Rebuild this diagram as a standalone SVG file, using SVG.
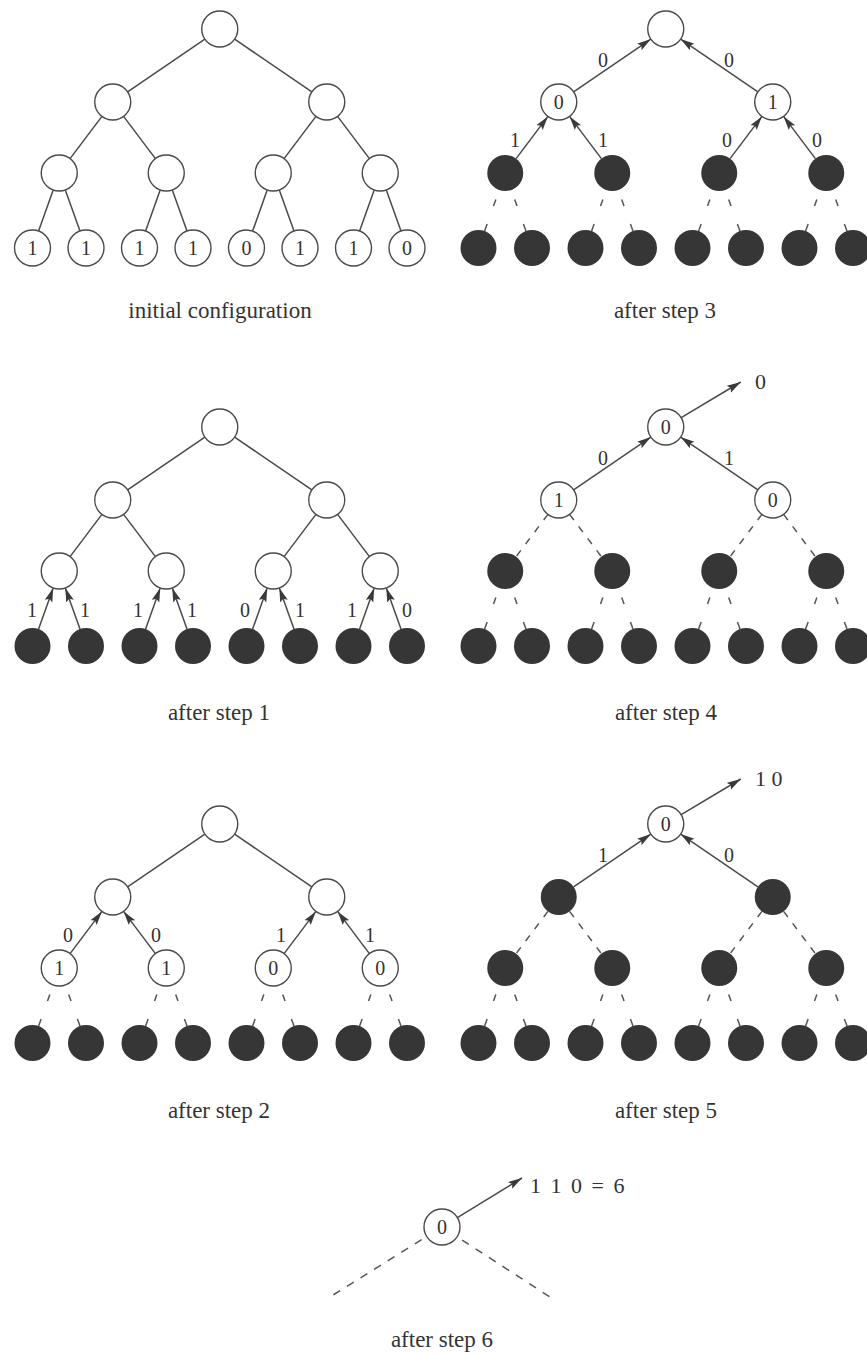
<svg xmlns="http://www.w3.org/2000/svg" width="867" height="1355" viewBox="0 0 867 1355">
<style>
.e{stroke:#4a4a4a;stroke-width:1.5;fill:none}
.a{stroke:#4a4a4a;stroke-width:1.5;fill:none;marker-end:url(#ah)}
.ds{stroke:#555;stroke-width:1.5;fill:none;stroke-dasharray:0 10 7 19 8 30}
.dl{stroke:#555;stroke-width:1.5;fill:none;stroke-dasharray:7 8}
.d7{stroke:#555;stroke-width:1.5;fill:none;stroke-dasharray:8 8;stroke-dashoffset:10}
.w{fill:#fff;stroke:#4a4a4a;stroke-width:1.4}
.b{fill:#363636}
text{font-family:"Liberation Serif","Times New Roman",serif;fill:#333}
.t{font-size:20px;text-anchor:middle}
.l{font-size:20px;text-anchor:middle}
.o{font-size:22px}
.cap{font-size:23px;text-anchor:middle}
</style>
<defs>
<marker id="ah" markerUnits="userSpaceOnUse" markerWidth="15" markerHeight="9" refX="14" refY="4" orient="auto">
<path d="M0,0 L14,4 L0,8 L2.5,4 Z" fill="#3a3a3a"/>
</marker>
</defs>
<rect width="867" height="1355" fill="#fff"/>

<g id="connectors">
 <g id="c-p1">
  <line class="e" x1="127.6" y1="91.9" x2="204.9" y2="39.1"/>
  <line class="e" x1="311.9" y1="91.9" x2="234.6" y2="39.1"/>
  <line class="e" x1="70.1" y1="158.6" x2="101.9" y2="116.4"/>
  <line class="e" x1="155.4" y1="158.6" x2="123.6" y2="116.4"/>
  <line class="e" x1="284.1" y1="158.6" x2="315.9" y2="116.4"/>
  <line class="e" x1="369.4" y1="158.6" x2="337.6" y2="116.4"/>
  <line class="e" x1="38.6" y1="231.1" x2="53.2" y2="190"/>
  <line class="e" x1="80" y1="231.1" x2="65.3" y2="190"/>
  <line class="e" x1="145.6" y1="231.1" x2="160.2" y2="190"/>
  <line class="e" x1="187" y1="231.1" x2="172.3" y2="190"/>
  <line class="e" x1="252.6" y1="231.1" x2="267.2" y2="190"/>
  <line class="e" x1="294" y1="231.1" x2="279.3" y2="190"/>
  <line class="e" x1="359.6" y1="231.1" x2="374.2" y2="190"/>
  <line class="e" x1="401" y1="231.1" x2="386.3" y2="190"/>
 </g>
 <g id="c-p2" transform="translate(446,0)">
  <line class="a" x1="127.6" y1="91.9" x2="204.9" y2="39.1"/>
  <line class="a" x1="311.9" y1="91.9" x2="234.6" y2="39.1"/>
  <line class="a" x1="70.1" y1="158.6" x2="101.9" y2="116.4"/>
  <line class="a" x1="155.4" y1="158.6" x2="123.6" y2="116.4"/>
  <line class="a" x1="284.1" y1="158.6" x2="315.9" y2="116.4"/>
  <line class="a" x1="369.4" y1="158.6" x2="337.6" y2="116.4"/>
  <line class="ds" x2="38.6" y2="231.1" x1="53.2" y1="190"/>
  <line class="ds" x2="80" y2="231.1" x1="65.3" y1="190"/>
  <line class="ds" x2="145.6" y2="231.1" x1="160.2" y1="190"/>
  <line class="ds" x2="187" y2="231.1" x1="172.3" y1="190"/>
  <line class="ds" x2="252.6" y2="231.1" x1="267.2" y1="190"/>
  <line class="ds" x2="294" y2="231.1" x1="279.3" y1="190"/>
  <line class="ds" x2="359.6" y2="231.1" x1="374.2" y1="190"/>
  <line class="ds" x2="401" y2="231.1" x1="386.3" y1="190"/>
  <text class="l" x="157" y="67">0</text>
  <text class="l" x="283" y="67">0</text>
  <text class="l" x="69" y="147">1</text>
  <text class="l" x="157" y="147">1</text>
  <text class="l" x="281" y="147">0</text>
  <text class="l" x="371" y="147">0</text>
 </g>
 <g id="c-p3" transform="translate(0,398)">
  <line class="e" x1="127.6" y1="91.9" x2="204.9" y2="39.1"/>
  <line class="e" x1="311.9" y1="91.9" x2="234.6" y2="39.1"/>
  <line class="e" x1="70.1" y1="158.6" x2="101.9" y2="116.4"/>
  <line class="e" x1="155.4" y1="158.6" x2="123.6" y2="116.4"/>
  <line class="e" x1="284.1" y1="158.6" x2="315.9" y2="116.4"/>
  <line class="e" x1="369.4" y1="158.6" x2="337.6" y2="116.4"/>
  <line class="a" x1="38.6" y1="231.1" x2="53.2" y2="190"/>
  <line class="a" x1="80" y1="231.1" x2="65.3" y2="190"/>
  <line class="a" x1="145.6" y1="231.1" x2="160.2" y2="190"/>
  <line class="a" x1="187" y1="231.1" x2="172.3" y2="190"/>
  <line class="a" x1="252.6" y1="231.1" x2="267.2" y2="190"/>
  <line class="a" x1="294" y1="231.1" x2="279.3" y2="190"/>
  <line class="a" x1="359.6" y1="231.1" x2="374.2" y2="190"/>
  <line class="a" x1="401" y1="231.1" x2="386.3" y2="190"/>
  <text class="l" x="32" y="219">1</text>
  <text class="l" x="85" y="219">1</text>
  <text class="l" x="138" y="219">1</text>
  <text class="l" x="192" y="219">1</text>
  <text class="l" x="245" y="219">0</text>
  <text class="l" x="300" y="219">1</text>
  <text class="l" x="352" y="219">1</text>
  <text class="l" x="407" y="219">0</text>
 </g>
 <g id="c-p4" transform="translate(446,398)">
  <line class="a" x1="127.6" y1="91.9" x2="204.9" y2="39.1"/>
  <line class="a" x1="311.9" y1="91.9" x2="234.6" y2="39.1"/>
  <line class="dl" x2="70.1" y2="158.6" x1="101.9" y1="116.4"/>
  <line class="dl" x2="155.4" y2="158.6" x1="123.6" y1="116.4"/>
  <line class="dl" x2="284.1" y2="158.6" x1="315.9" y1="116.4"/>
  <line class="dl" x2="369.4" y2="158.6" x1="337.6" y1="116.4"/>
  <line class="ds" x2="38.6" y2="231.1" x1="53.2" y1="190"/>
  <line class="ds" x2="80" y2="231.1" x1="65.3" y1="190"/>
  <line class="ds" x2="145.6" y2="231.1" x1="160.2" y1="190"/>
  <line class="ds" x2="187" y2="231.1" x1="172.3" y1="190"/>
  <line class="ds" x2="252.6" y2="231.1" x1="267.2" y1="190"/>
  <line class="ds" x2="294" y2="231.1" x1="279.3" y1="190"/>
  <line class="ds" x2="359.6" y2="231.1" x1="374.2" y1="190"/>
  <line class="ds" x2="401" y2="231.1" x1="386.3" y1="190"/>
  <line class="a" x1="235.2" y1="19.7" x2="294.8" y2="-16"/>
  <text class="l" x="157" y="67">0</text>
  <text class="l" x="283" y="67">1</text>
  <text class="o" x="309" y="-9">0</text>
 </g>
 <g id="c-p5" transform="translate(0,795)">
  <line class="e" x1="127.6" y1="91.9" x2="204.9" y2="39.1"/>
  <line class="e" x1="311.9" y1="91.9" x2="234.6" y2="39.1"/>
  <line class="a" x1="70.1" y1="158.6" x2="101.9" y2="116.4"/>
  <line class="a" x1="155.4" y1="158.6" x2="123.6" y2="116.4"/>
  <line class="a" x1="284.1" y1="158.6" x2="315.9" y2="116.4"/>
  <line class="a" x1="369.4" y1="158.6" x2="337.6" y2="116.4"/>
  <line class="ds" x2="38.6" y2="231.1" x1="53.2" y1="190"/>
  <line class="ds" x2="80" y2="231.1" x1="65.3" y1="190"/>
  <line class="ds" x2="145.6" y2="231.1" x1="160.2" y1="190"/>
  <line class="ds" x2="187" y2="231.1" x1="172.3" y1="190"/>
  <line class="ds" x2="252.6" y2="231.1" x1="267.2" y1="190"/>
  <line class="ds" x2="294" y2="231.1" x1="279.3" y1="190"/>
  <line class="ds" x2="359.6" y2="231.1" x1="374.2" y1="190"/>
  <line class="ds" x2="401" y2="231.1" x1="386.3" y1="190"/>
  <text class="l" x="68" y="147">0</text>
  <text class="l" x="156" y="147">0</text>
  <text class="l" x="281" y="147">1</text>
  <text class="l" x="370" y="147">1</text>
 </g>
 <g id="c-p6" transform="translate(446,795)">
  <line class="a" x1="127.6" y1="91.9" x2="204.9" y2="39.1"/>
  <line class="a" x1="311.9" y1="91.9" x2="234.6" y2="39.1"/>
  <line class="dl" x2="70.1" y2="158.6" x1="101.9" y1="116.4"/>
  <line class="dl" x2="155.4" y2="158.6" x1="123.6" y1="116.4"/>
  <line class="dl" x2="284.1" y2="158.6" x1="315.9" y1="116.4"/>
  <line class="dl" x2="369.4" y2="158.6" x1="337.6" y1="116.4"/>
  <line class="ds" x2="38.6" y2="231.1" x1="53.2" y1="190"/>
  <line class="ds" x2="80" y2="231.1" x1="65.3" y1="190"/>
  <line class="ds" x2="145.6" y2="231.1" x1="160.2" y1="190"/>
  <line class="ds" x2="187" y2="231.1" x1="172.3" y1="190"/>
  <line class="ds" x2="252.6" y2="231.1" x1="267.2" y1="190"/>
  <line class="ds" x2="294" y2="231.1" x1="279.3" y1="190"/>
  <line class="ds" x2="359.6" y2="231.1" x1="374.2" y1="190"/>
  <line class="ds" x2="401" y2="231.1" x1="386.3" y1="190"/>
  <line class="a" x1="235.2" y1="19.7" x2="294.8" y2="-16"/>
  <text class="l" x="157" y="67">1</text>
  <text class="l" x="283" y="67">0</text>
  <text class="o" x="309" y="-9">1 0</text>
 </g>
 <g id="c-p7">
  <line class="d7" x1="426.7" y1="1236.5" x2="333" y2="1295"/>
  <line class="d7" x1="457.1" y1="1236.8" x2="550" y2="1297"/>
  <line class="a" x1="457.4" y1="1217.6" x2="522" y2="1178"/>
  <text class="o" x="530" y="1193" word-spacing="4">1 1 0 = 6</text>
 </g>
</g>

<g id="nodes">
 <g id="p1" transform="translate(0,0)">
  <g id="p1-n0"><circle class="w" cx="219.75" cy="29" r="18"/></g>
  <g id="p1-n1"><circle class="w" cx="112.75" cy="102" r="18"/></g>
  <g id="p1-n2"><circle class="w" cx="326.75" cy="102" r="18"/></g>
  <g id="p1-n3"><circle class="w" cx="59.25" cy="173" r="18"/></g>
  <g id="p1-n4"><circle class="w" cx="166.25" cy="173" r="18"/></g>
  <g id="p1-n5"><circle class="w" cx="273.25" cy="173" r="18"/></g>
  <g id="p1-n6"><circle class="w" cx="380.25" cy="173" r="18"/></g>
  <g id="p1-n7"><circle class="w" cx="32.5" cy="248" r="18"/><text class="t" x="32.5" y="255">1</text></g>
  <g id="p1-n8"><circle class="w" cx="86" cy="248" r="18"/><text class="t" x="86" y="255">1</text></g>
  <g id="p1-n9"><circle class="w" cx="139.5" cy="248" r="18"/><text class="t" x="139.5" y="255">1</text></g>
  <g id="p1-n10"><circle class="w" cx="193" cy="248" r="18"/><text class="t" x="193" y="255">1</text></g>
  <g id="p1-n11"><circle class="w" cx="246.5" cy="248" r="18"/><text class="t" x="246.5" y="255">0</text></g>
  <g id="p1-n12"><circle class="w" cx="300" cy="248" r="18"/><text class="t" x="300" y="255">1</text></g>
  <g id="p1-n13"><circle class="w" cx="353.5" cy="248" r="18"/><text class="t" x="353.5" y="255">1</text></g>
  <g id="p1-n14"><circle class="w" cx="407" cy="248" r="18"/><text class="t" x="407" y="255">0</text></g>
 </g>
 <g id="p2" transform="translate(446,0)">
  <g id="p2-n0"><circle class="w" cx="219.75" cy="29" r="18"/></g>
  <g id="p2-n1"><circle class="w" cx="112.75" cy="102" r="18"/><text class="t" x="112.75" y="109">0</text></g>
  <g id="p2-n2"><circle class="w" cx="326.75" cy="102" r="18"/><text class="t" x="326.75" y="109">1</text></g>
  <g id="p2-n3"><circle class="b" cx="59.25" cy="173" r="18"/></g>
  <g id="p2-n4"><circle class="b" cx="166.25" cy="173" r="18"/></g>
  <g id="p2-n5"><circle class="b" cx="273.25" cy="173" r="18"/></g>
  <g id="p2-n6"><circle class="b" cx="380.25" cy="173" r="18"/></g>
  <g id="p2-n7"><circle class="b" cx="32.5" cy="248" r="18"/></g>
  <g id="p2-n8"><circle class="b" cx="86" cy="248" r="18"/></g>
  <g id="p2-n9"><circle class="b" cx="139.5" cy="248" r="18"/></g>
  <g id="p2-n10"><circle class="b" cx="193" cy="248" r="18"/></g>
  <g id="p2-n11"><circle class="b" cx="246.5" cy="248" r="18"/></g>
  <g id="p2-n12"><circle class="b" cx="300" cy="248" r="18"/></g>
  <g id="p2-n13"><circle class="b" cx="353.5" cy="248" r="18"/></g>
  <g id="p2-n14"><circle class="b" cx="407" cy="248" r="18"/></g>
 </g>
 <g id="p3" transform="translate(0,398)">
  <g id="p3-n0"><circle class="w" cx="219.75" cy="29" r="18"/></g>
  <g id="p3-n1"><circle class="w" cx="112.75" cy="102" r="18"/></g>
  <g id="p3-n2"><circle class="w" cx="326.75" cy="102" r="18"/></g>
  <g id="p3-n3"><circle class="w" cx="59.25" cy="173" r="18"/></g>
  <g id="p3-n4"><circle class="w" cx="166.25" cy="173" r="18"/></g>
  <g id="p3-n5"><circle class="w" cx="273.25" cy="173" r="18"/></g>
  <g id="p3-n6"><circle class="w" cx="380.25" cy="173" r="18"/></g>
  <g id="p3-n7"><circle class="b" cx="32.5" cy="248" r="18"/></g>
  <g id="p3-n8"><circle class="b" cx="86" cy="248" r="18"/></g>
  <g id="p3-n9"><circle class="b" cx="139.5" cy="248" r="18"/></g>
  <g id="p3-n10"><circle class="b" cx="193" cy="248" r="18"/></g>
  <g id="p3-n11"><circle class="b" cx="246.5" cy="248" r="18"/></g>
  <g id="p3-n12"><circle class="b" cx="300" cy="248" r="18"/></g>
  <g id="p3-n13"><circle class="b" cx="353.5" cy="248" r="18"/></g>
  <g id="p3-n14"><circle class="b" cx="407" cy="248" r="18"/></g>
 </g>
 <g id="p4" transform="translate(446,398)">
  <g id="p4-n0"><circle class="w" cx="219.75" cy="29" r="18"/><text class="t" x="219.75" y="36">0</text></g>
  <g id="p4-n1"><circle class="w" cx="112.75" cy="102" r="18"/><text class="t" x="112.75" y="109">1</text></g>
  <g id="p4-n2"><circle class="w" cx="326.75" cy="102" r="18"/><text class="t" x="326.75" y="109">0</text></g>
  <g id="p4-n3"><circle class="b" cx="59.25" cy="173" r="18"/></g>
  <g id="p4-n4"><circle class="b" cx="166.25" cy="173" r="18"/></g>
  <g id="p4-n5"><circle class="b" cx="273.25" cy="173" r="18"/></g>
  <g id="p4-n6"><circle class="b" cx="380.25" cy="173" r="18"/></g>
  <g id="p4-n7"><circle class="b" cx="32.5" cy="248" r="18"/></g>
  <g id="p4-n8"><circle class="b" cx="86" cy="248" r="18"/></g>
  <g id="p4-n9"><circle class="b" cx="139.5" cy="248" r="18"/></g>
  <g id="p4-n10"><circle class="b" cx="193" cy="248" r="18"/></g>
  <g id="p4-n11"><circle class="b" cx="246.5" cy="248" r="18"/></g>
  <g id="p4-n12"><circle class="b" cx="300" cy="248" r="18"/></g>
  <g id="p4-n13"><circle class="b" cx="353.5" cy="248" r="18"/></g>
  <g id="p4-n14"><circle class="b" cx="407" cy="248" r="18"/></g>
 </g>
 <g id="p5" transform="translate(0,795)">
  <g id="p5-n0"><circle class="w" cx="219.75" cy="29" r="18"/></g>
  <g id="p5-n1"><circle class="w" cx="112.75" cy="102" r="18"/></g>
  <g id="p5-n2"><circle class="w" cx="326.75" cy="102" r="18"/></g>
  <g id="p5-n3"><circle class="w" cx="59.25" cy="173" r="18"/><text class="t" x="59.25" y="180">1</text></g>
  <g id="p5-n4"><circle class="w" cx="166.25" cy="173" r="18"/><text class="t" x="166.25" y="180">1</text></g>
  <g id="p5-n5"><circle class="w" cx="273.25" cy="173" r="18"/><text class="t" x="273.25" y="180">0</text></g>
  <g id="p5-n6"><circle class="w" cx="380.25" cy="173" r="18"/><text class="t" x="380.25" y="180">0</text></g>
  <g id="p5-n7"><circle class="b" cx="32.5" cy="248" r="18"/></g>
  <g id="p5-n8"><circle class="b" cx="86" cy="248" r="18"/></g>
  <g id="p5-n9"><circle class="b" cx="139.5" cy="248" r="18"/></g>
  <g id="p5-n10"><circle class="b" cx="193" cy="248" r="18"/></g>
  <g id="p5-n11"><circle class="b" cx="246.5" cy="248" r="18"/></g>
  <g id="p5-n12"><circle class="b" cx="300" cy="248" r="18"/></g>
  <g id="p5-n13"><circle class="b" cx="353.5" cy="248" r="18"/></g>
  <g id="p5-n14"><circle class="b" cx="407" cy="248" r="18"/></g>
 </g>
 <g id="p6" transform="translate(446,795)">
  <g id="p6-n0"><circle class="w" cx="219.75" cy="29" r="18"/><text class="t" x="219.75" y="36">0</text></g>
  <g id="p6-n1"><circle class="b" cx="112.75" cy="102" r="18"/></g>
  <g id="p6-n2"><circle class="b" cx="326.75" cy="102" r="18"/></g>
  <g id="p6-n3"><circle class="b" cx="59.25" cy="173" r="18"/></g>
  <g id="p6-n4"><circle class="b" cx="166.25" cy="173" r="18"/></g>
  <g id="p6-n5"><circle class="b" cx="273.25" cy="173" r="18"/></g>
  <g id="p6-n6"><circle class="b" cx="380.25" cy="173" r="18"/></g>
  <g id="p6-n7"><circle class="b" cx="32.5" cy="248" r="18"/></g>
  <g id="p6-n8"><circle class="b" cx="86" cy="248" r="18"/></g>
  <g id="p6-n9"><circle class="b" cx="139.5" cy="248" r="18"/></g>
  <g id="p6-n10"><circle class="b" cx="193" cy="248" r="18"/></g>
  <g id="p6-n11"><circle class="b" cx="246.5" cy="248" r="18"/></g>
  <g id="p6-n12"><circle class="b" cx="300" cy="248" r="18"/></g>
  <g id="p6-n13"><circle class="b" cx="353.5" cy="248" r="18"/></g>
  <g id="p6-n14"><circle class="b" cx="407" cy="248" r="18"/></g>
 </g>
 <g id="p7">
  <g id="p7-n0"><circle class="w" cx="442" cy="1227" r="18"/><text class="t" x="442" y="1234">0</text></g>
 </g>
</g>

<g id="captions">
 <text class="cap" x="220" y="318">initial configuration</text>
 <text class="cap" x="665" y="318">after step 3</text>
 <text class="cap" x="219" y="720">after step 1</text>
 <text class="cap" x="666" y="720">after step 4</text>
 <text class="cap" x="219" y="1118">after step 2</text>
 <text class="cap" x="666" y="1118">after step 5</text>
 <text class="cap" x="442" y="1347">after step 6</text>
</g>
</svg>
